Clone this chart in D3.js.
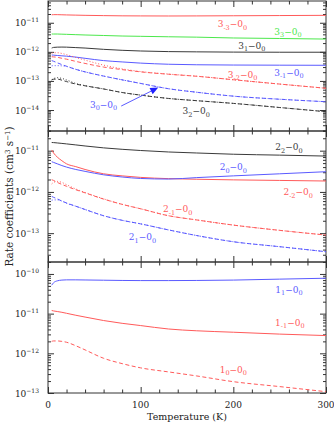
<!DOCTYPE html>
<html>
<head>
<meta charset="utf-8">
<script src="https://cdn.jsdelivr.net/npm/d3@7"></script>
<style>
  body { margin: 0; background: #fff; }
  svg { display: block; font-family: "DejaVu Serif", serif; }
</style>
</head>
<body>
<script>
// temperature grid shared by every curve (K)
const tempK = [4, 6, 10, 15, 20, 30, 40, 60, 80, 100, 130, 160, 200, 250, 300];

// j=3 levels (top panel), "b" = second (dotted) calculation
const rate3m3 = [1.88e-11, 1.9e-11, 1.9e-11, 1.88e-11, 1.86e-11, 1.83e-11, 1.8e-11, 1.76e-11, 1.73e-11, 1.72e-11, 1.71e-11, 1.72e-11, 1.74e-11, 1.77e-11, 1.8e-11];
const rate33 = [4.1e-12, 4.1e-12, 4.1e-12, 4.05e-12, 4.0e-12, 3.9e-12, 3.8e-12, 3.65e-12, 3.5e-12, 3.42e-12, 3.3e-12, 3.2e-12, 3.0e-12, 2.88e-12, 2.75e-12];
const rate31 = [1.35e-12, 1.42e-12, 1.45e-12, 1.46e-12, 1.45e-12, 1.4e-12, 1.35e-12, 1.22e-12, 1.13e-12, 1.07e-12, 1.02e-12, 1.0e-12, 0.98e-12, 0.97e-12, 0.97e-12];
const rate3m1 = [7.8e-13, 7.7e-13, 7.5e-13, 7.3e-13, 7.1e-13, 6.6e-13, 6.0e-13, 5.0e-13, 4.5e-13, 4.1e-13, 3.75e-13, 3.6e-13, 3.52e-13, 3.48e-13, 3.45e-13];
const rate3m2 = [6.8e-13, 6.7e-13, 6.5e-13, 6.0e-13, 5.6e-13, 4.7e-13, 4.0e-13, 3.0e-13, 2.45e-13, 2.05e-13, 1.7e-13, 1.45e-13, 1.1e-13, 7.8e-14, 5.6e-14];
const rate3m2b = [9.0e-13, 9.3e-13, 9.3e-13, 8.8e-13, 8.0e-13, 6.4e-13, 5.2e-13, 3.5e-13, 2.6e-13, 2.1e-13, 1.72e-13, 1.46e-13, 1.1e-13, 7.8e-14, 5.6e-14];
const rate30 = [5.0e-13, 4.75e-13, 4.2e-13, 3.65e-13, 3.2e-13, 2.5e-13, 2.05e-13, 1.47e-13, 1.09e-13, 8.2e-14, 5.4e-14, 4.1e-14, 3.0e-14, 2.35e-14, 1.93e-14];
const rate30b = [3.3e-13, 3.35e-13, 3.35e-13, 3.3e-13, 3.15e-13, 2.5e-13, 2.05e-13, 1.47e-13, 1.09e-13, 8.2e-14, 5.4e-14, 4.1e-14, 3.0e-14, 2.35e-14, 1.93e-14];
const rate32 = [1.11e-13, 1.14e-13, 1.16e-13, 1.06e-13, 9.5e-14, 7.8e-14, 6.8e-14, 5.3e-14, 4.0e-14, 3.25e-14, 2.5e-14, 2.1e-14, 1.69e-14, 1.22e-14, 8.75e-15];
const rate32b = [1.07e-13, 1.2e-13, 1.29e-13, 1.22e-13, 1.08e-13, 8.2e-14, 6.9e-14, 5.3e-14, 4.0e-14, 3.25e-14, 2.5e-14, 2.1e-14, 1.69e-14, 1.22e-14, 8.75e-15];

// j=2 levels (middle panel)
const rate22 = [1.58e-11, 1.57e-11, 1.54e-11, 1.5e-11, 1.46e-11, 1.38e-11, 1.3e-11, 1.17e-11, 1.08e-11, 1.01e-11, 9.3e-12, 8.8e-12, 8.2e-12, 7.8e-12, 7.4e-12];
const rate2m2 = [1.04e-11, 8.8e-12, 7.0e-12, 5.7e-12, 4.8e-12, 4.1e-12, 3.5e-12, 2.75e-12, 2.45e-12, 2.25e-12, 2.1e-12, 2.03e-12, 1.96e-12, 1.9e-12, 1.84e-12];
const rate20 = [5.4e-12, 5.2e-12, 4.8e-12, 4.35e-12, 4.0e-12, 3.5e-12, 3.15e-12, 2.6e-12, 2.3e-12, 2.12e-12, 2.05e-12, 2.22e-12, 2.45e-12, 2.75e-12, 3.09e-12];
const rate2m1 = [1.98e-12, 1.9e-12, 1.7e-12, 1.52e-12, 1.37e-12, 1.13e-12, 9.5e-13, 6.7e-13, 5.0e-13, 3.9e-13, 2.65e-13, 2.1e-13, 1.57e-13, 1.17e-13, 9.0e-14];
const rate2m1b = [1.56e-12, 1.7e-12, 1.8e-12, 1.7e-12, 1.5e-12, 1.18e-12, 9.7e-13, 6.8e-13, 5.0e-13, 3.9e-13, 2.65e-13, 2.1e-13, 1.57e-13, 1.17e-13, 9.0e-14];
const rate21 = [7.8e-13, 7.4e-13, 6.8e-13, 6.0e-13, 5.4e-13, 4.5e-13, 3.75e-13, 2.65e-13, 2.05e-13, 1.68e-13, 1.2e-13, 8.8e-14, 6.2e-14, 4.7e-14, 3.55e-14];
const rate21b = [6.3e-13, 6.4e-13, 6.4e-13, 6.0e-13, 5.3e-13, 4.5e-13, 3.75e-13, 2.65e-13, 2.05e-13, 1.68e-13, 1.2e-13, 8.8e-14, 6.2e-14, 4.7e-14, 3.55e-14];

// j=1 levels (bottom panel)
const rate11 = [5.2e-11, 6.0e-11, 6.7e-11, 7.0e-11, 7.1e-11, 7.1e-11, 7.05e-11, 6.95e-11, 6.85e-11, 6.8e-11, 6.8e-11, 6.85e-11, 7.0e-11, 7.4e-11, 7.8e-11];
const rate1m1 = [1.2e-11, 1.17e-11, 1.13e-11, 1.08e-11, 1.02e-11, 9.1e-12, 8.2e-12, 6.7e-12, 5.7e-12, 5.0e-12, 4.1e-12, 3.7e-12, 3.4e-12, 3.05e-12, 2.8e-12];
const rate10 = [2.0e-12, 2.05e-12, 2.05e-12, 2.0e-12, 1.9e-12, 1.55e-12, 1.22e-12, 7.5e-13, 5.5e-13, 4.3e-13, 3.4e-13, 2.7e-13, 1.93e-13, 1.45e-13, 1.08e-13];

// axis ticks
const xMajor = [0, 100, 200, 300];
const xMinor = [20, 40, 60, 80, 120, 140, 160, 180, 220, 240, 260, 280];

const red = "#ff5a5a", green = "#4ce84c", blue = "#5a5aff", black = "#3a3a3a";

// panel layout and y ranges
const panels = [
  { top: 1, bottom: 131, domain: [1.9e-15, 5.6e-11], decades: [-11, -12, -13, -14] },
  { top: 131, bottom: 262, domain: [2e-14, 3e-11], decades: [-11, -12, -13] },
  { top: 262, bottom: 393, domain: [1e-13, 2e-10], decades: [-10, -11, -12, -13] }
];

const series = [
  { panel: 0, values: rate3m3, color: red, dash: null },
  { panel: 0, values: rate33, color: green, dash: null },
  { panel: 0, values: rate31, color: black, dash: null },
  { panel: 0, values: rate3m1, color: blue, dash: null },
  { panel: 0, values: rate3m2, color: red, dash: "4,2.5" },
  { panel: 0, values: rate3m2b, color: red, dash: "1,2" },
  { panel: 0, values: rate30, color: blue, dash: "4,2.5" },
  { panel: 0, values: rate30b, color: blue, dash: "1,2" },
  { panel: 0, values: rate32, color: black, dash: "4,2.5" },
  { panel: 0, values: rate32b, color: black, dash: "1,2" },
  { panel: 1, values: rate22, color: black, dash: null },
  { panel: 1, values: rate2m2, color: red, dash: null },
  { panel: 1, values: rate20, color: blue, dash: null },
  { panel: 1, values: rate2m1, color: red, dash: "4,2.5" },
  { panel: 1, values: rate2m1b, color: red, dash: "1,2" },
  { panel: 1, values: rate21, color: blue, dash: "4,2.5" },
  { panel: 1, values: rate21b, color: blue, dash: "1,2" },
  { panel: 2, values: rate11, color: blue, dash: null },
  { panel: 2, values: rate1m1, color: red, dash: null },
  { panel: 2, values: rate10, color: red, dash: "4,2.5" }
];

// curve labels: [level, k, panel, T, rate, colour], placed through the scales
const labels = [
  ["3", "-3", 0, 199, 9.0e-12, red],
  ["3", "3", 0, 259, 4.9e-12, green],
  ["3", "1", 0, 220, 1.62e-12, black],
  ["3", "-2", 0, 210, 1.6e-13, red],
  ["3", "-1", 0, 260, 1.91e-13, blue],
  ["3", "2", 0, 160, 9.2e-15, black],
  ["3", "0", 0, 60, 1.49e-14, blue],
  ["2", "2", 1, 260, 1.21e-11, black],
  ["2", "0", 1, 200, 3.95e-12, blue],
  ["2", "-2", 1, 270, 9.8e-13, red],
  ["2", "-1", 1, 140, 3.85e-13, red],
  ["2", "1", 1, 102, 7.9e-14, blue],
  ["1", "1", 2, 260, 3.95e-11, blue],
  ["1", "-1", 2, 261, 5.9e-12, red],
  ["1", "0", 2, 200, 3.8e-13, red]
];

// arrow to the 3_0 curve: tail and tip in data units
const arrowTail = [79, 1.37e-14];
const arrowTip = [119, 5.9e-14];

const W = 334, H = 423;
const svg = d3.select("body").append("svg").attr("width", W).attr("height", H);

const x = d3.scaleLinear().domain([0, 300]).range([48, 326]);
const frame = "#333";

panels.forEach(function (p, i) {
  const y = d3.scaleLog().domain(p.domain).range([p.bottom, p.top]);
  p.y = y;

  // minor ticks at 2..9 of each decade
  const lo = Math.floor(Math.log10(p.domain[0])), hi = Math.ceil(Math.log10(p.domain[1]));
  const yMinor = [], yMajor = p.decades.map(d => Math.pow(10, d));
  for (let d = lo; d < hi; d++) {
    for (let m = 2; m <= 9; m++) {
      const v = m * Math.pow(10, d);
      if (v >= p.domain[0] && v <= p.domain[1]) yMinor.push(v);
    }
  }

  const tickStyle = g => {
    g.select(".domain").remove();
    g.selectAll("line").attr("stroke", frame);
    g.selectAll("text").remove();
  };

  // y ticks, left and right, pointing inward
  svg.append("g").attr("transform", "translate(48,0)").call(d3.axisLeft(y).tickValues(yMajor).tickSize(-6)).call(tickStyle);
  svg.append("g").attr("transform", "translate(48,0)").call(d3.axisLeft(y).tickValues(yMinor).tickSize(-3)).call(tickStyle);
  svg.append("g").attr("transform", "translate(326,0)").call(d3.axisRight(y).tickValues(yMajor).tickSize(-6)).call(tickStyle);
  svg.append("g").attr("transform", "translate(326,0)").call(d3.axisRight(y).tickValues(yMinor).tickSize(-3)).call(tickStyle);

  // x ticks on top and bottom of each panel
  svg.append("g").attr("transform", `translate(0,${p.bottom})`).call(d3.axisBottom(x).tickValues(xMajor).tickSize(-6)).call(tickStyle);
  svg.append("g").attr("transform", `translate(0,${p.bottom})`).call(d3.axisBottom(x).tickValues(xMinor).tickSize(-3.5)).call(tickStyle);
  svg.append("g").attr("transform", `translate(0,${p.top})`).call(d3.axisTop(x).tickValues(xMajor).tickSize(-6)).call(tickStyle);
  svg.append("g").attr("transform", `translate(0,${p.top})`).call(d3.axisTop(x).tickValues(xMinor).tickSize(-3.5)).call(tickStyle);

  // y tick labels 10^n
  p.decades.forEach(function (d) {
    const t = svg.append("text")
      .attr("x", 39)
      .attr("y", y(Math.pow(10, d)) + 3.5)
      .attr("text-anchor", "end")
      .attr("fill", "#222")
      .style("font-size", "9px");
    t.append("tspan").text("10");
    t.append("tspan").attr("dy", -4).style("font-size", "6px").text("\u2212" + (-d));
  });

  // clip region for the curves
  svg.append("clipPath").attr("id", "clip" + i)
    .append("rect").attr("x", 48).attr("y", p.top).attr("width", 278).attr("height", p.bottom - p.top);

  // frame
  svg.append("rect")
    .attr("x", 48).attr("y", p.top)
    .attr("width", 278).attr("height", p.bottom - p.top)
    .attr("fill", "none").attr("stroke", frame).attr("stroke-width", 1);
});

// curves
series.forEach(function (s) {
  const p = panels[s.panel];
  const line = d3.line()
    .x((d, j) => x(tempK[j]))
    .y(d => p.y(d))
    .curve(d3.curveMonotoneX);
  svg.append("path")
    .datum(s.values)
    .attr("clip-path", `url(#clip${s.panel})`)
    .attr("d", line)
    .attr("fill", "none")
    .attr("stroke", s.color)
    .attr("stroke-width", 1)
    .attr("stroke-dasharray", s.dash);
});

// curve labels j_k - 0_0
labels.forEach(function (l) {
  const p = panels[l[2]];
  const t = svg.append("text")
    .attr("x", x(l[3]))
    .attr("y", p.y(l[4]) + 3)
    .attr("text-anchor", "middle")
    .attr("fill", l[5])
    .style("font-size", "9px");
  t.append("tspan").text(l[0]);
  t.append("tspan").attr("dy", 2.5).style("font-size", "6.5px").text(l[1]);
  t.append("tspan").attr("dy", -2.5).text("\u22120");
  t.append("tspan").attr("dy", 2.5).style("font-size", "6.5px").text("0");
});

// arrow pointing at the 3_0 curve
const yTop = panels[0].y;
const ax0 = x(arrowTail[0]), ay0 = yTop(arrowTail[1]);
const ax1 = x(arrowTip[0]), ay1 = yTop(arrowTip[1]);
const ang = Math.atan2(ay1 - ay0, ax1 - ax0);
svg.append("line")
  .attr("x1", ax0).attr("y1", ay0).attr("x2", ax1 - 5 * Math.cos(ang)).attr("y2", ay1 - 5 * Math.sin(ang))
  .attr("stroke", blue).attr("stroke-width", 1);
const head = [
  [ax1, ay1],
  [ax1 - 8 * Math.cos(ang) + 3.5 * Math.sin(ang), ay1 - 8 * Math.sin(ang) - 3.5 * Math.cos(ang)],
  [ax1 - 8 * Math.cos(ang) - 3.5 * Math.sin(ang), ay1 - 8 * Math.sin(ang) + 3.5 * Math.cos(ang)]
];
svg.append("path").attr("d", "M" + head.join("L") + "Z").attr("fill", "#2020ff");

// x tick labels
svg.selectAll(".xlab").data(xMajor).enter().append("text")
  .attr("x", d => x(d))
  .attr("y", 408)
  .attr("text-anchor", "middle")
  .attr("fill", "#222")
  .style("font-size", "9px")
  .text(d => d);

// axis titles
svg.append("text")
  .attr("x", x(150)).attr("y", 420)
  .attr("text-anchor", "middle")
  .attr("fill", "#222")
  .style("font-size", "9.5px")
  .text("Temperature (K)");

const yt = svg.append("text")
  .attr("transform", `translate(13,${(panels[1].top + panels[1].bottom) / 2}) rotate(-90)`)
  .attr("text-anchor", "middle")
  .attr("fill", "#222")
  .style("font-size", "10.5px");
yt.append("tspan").text("Rate coefficients (cm");
yt.append("tspan").attr("dy", -3.5).style("font-size", "7px").text("3");
yt.append("tspan").attr("dy", 3.5).text(" s");
yt.append("tspan").attr("dy", -3.5).style("font-size", "7px").text("\u22121");
yt.append("tspan").attr("dy", 3.5).text(")");
</script>
</body>
</html>
